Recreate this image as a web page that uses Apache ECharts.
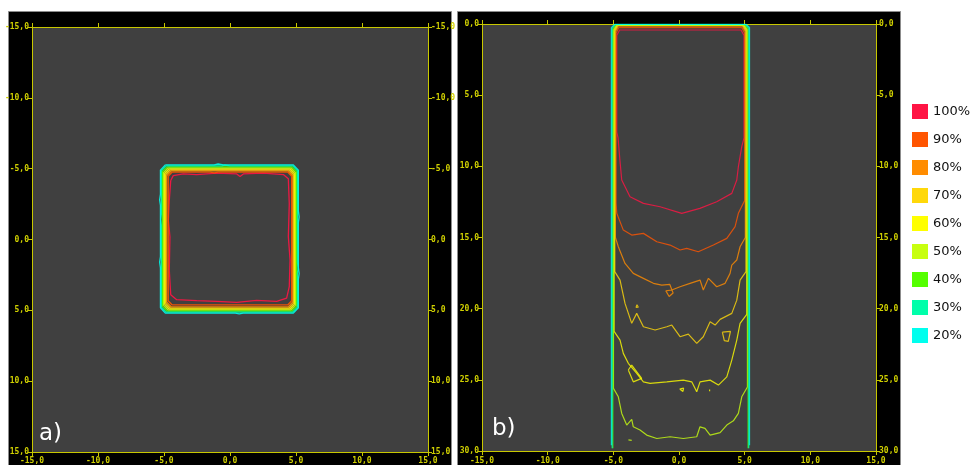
<!DOCTYPE html>
<html><head><meta charset="utf-8">
<script src="https://cdn.jsdelivr.net/npm/echarts@6/dist/echarts.min.js"></script>
<style>html,body{margin:0;padding:0;background:#fff}#c{width:973px;height:465px}</style>
</head><body><div id="c"></div>
<script>
// ---- categories / levels ----
const levels = ['100%','90%','80%','70%','60%','50%','40%','30%','20%'];
const levelColors = ['#ff1444','#ff5500','#ff8c00','#ffd80a','#ffff00','#c8ff10','#55ff00','#00ffaa','#00ffee'];

// ---- tick values ----
const ticksA = [-15,-10,-5,0,5,10,15];
const ticksBx = [-15,-10,-5,0,5,10,15];
const ticksBdepth = [0,5,10,15,20,25,30];

// ---- panel a) isodose contours (x, y) ----
const a100 = [[-4.49,-4.16],[-4.3,-4.51],[-3.54,-4.63],[-2.52,-4.58],[-1.01,-4.68],[0.51,-4.63],[0.76,-4.44],[1.01,-4.63],[2.52,-4.68],[4.04,-4.58],[4.42,-4.28],[4.49,-2.52],[4.42,-0.19],[4.55,1.45],[4.49,3.32],[4.29,4.14],[3.54,4.37],[2.02,4.29],[0.51,4.44],[-1.01,4.37],[-2.52,4.32],[-4.04,4.25],[-4.49,3.9],[-4.6,2.15],[-4.55,-0.19],[-4.67,-1.35],[-4.6,-2.76],[-4.49,-4.16]];
const a90 = [[-4.38,-4.76],[-1.5,-4.76],[-1.2,-4.7],[-0.9,-4.76],[4.37,-4.76],[4.67,-4.46],[4.67,4.32],[4.37,4.62],[-4.38,4.62],[-4.68,4.32],[-4.68,-4.46],[-4.38,-4.76]];
const a80 = [[-4.45,-4.85],[4.41,-4.85],[4.76,-4.5],[4.76,4.41],[4.41,4.76],[-4.45,4.76],[-4.8,4.41],[-4.8,-4.5],[-4.45,-4.85]];
const a70 = [[-4.53,-4.92],[4.48,-4.92],[4.83,-4.57],[4.83,4.49],[4.48,4.84],[-4.53,4.84],[-4.88,4.49],[-4.88,-4.57],[-4.53,-4.92]];
const a60 = [[-4.61,-4.99],[4.55,-4.99],[4.9,-4.64],[4.9,4.56],[4.55,4.91],[-4.61,4.91],[-4.96,4.56],[-4.96,-4.64],[-4.61,-4.99]];
const a50 = [[-4.69,-5.06],[4.62,-5.06],[4.97,-4.71],[4.97,4.63],[4.62,4.98],[-4.69,4.98],[-5.04,4.63],[-5.04,-4.71],[-4.69,-5.06]];
const a40 = [[-4.77,-5.13],[4.69,-5.13],[5.04,-4.78],[5.04,4.7],[4.69,5.05],[-4.77,5.05],[-5.12,4.7],[-5.12,-4.78],[-4.77,-5.13]];
const a30 = [[-4.85,-5.2],[-0.6,-5.2],[-0.4,-5.25],[0.0,-5.2],[4.76,-5.2],[5.11,-4.85],[5.11,1.6],[5.16,2.0],[5.11,2.4],[5.11,4.77],[4.76,5.12],[-4.85,5.12],[-5.2,4.77],[-5.2,-1.0],[-5.25,-1.4],[-5.2,-1.8],[-5.2,-4.85],[-4.85,-5.2]];
const a20 = [[-4.9,-5.27],[-1.2,-5.27],[-0.9,-5.33],[-0.5,-5.27],[4.8,-5.27],[5.18,-4.9],[5.18,-2.0],[5.24,-1.6],[5.18,-1.2],[5.18,2.0],[5.24,2.4],[5.18,2.8],[5.18,4.82],[4.8,5.2],[1.0,5.2],[0.7,5.25],[0.4,5.2],[-4.9,5.2],[-5.27,4.82],[-5.27,2.0],[-5.33,1.6],[-5.27,1.2],[-5.27,-2.4],[-5.33,-2.8],[-5.27,-3.2],[-5.27,-4.9],[-4.9,-5.27]];

// ---- panel b) isodose contours (x, depth) ----
const b100 = [[-4.74,0.8],[-4.74,7.6],[-4.64,8.0],[-4.5,9.56],[-4.36,10.96],[-3.73,12.14],[-2.71,12.6],[-1.44,12.84],[0.21,13.3],[1.59,12.95],[2.87,12.49],[4.02,11.9],[4.4,10.96],[4.52,10.03],[4.78,8.62],[4.95,8.0],[4.95,0.8],[4.72,0.42],[-4.52,0.42],[-4.74,0.8]];
const b90 = [[-4.79,0.65],[-4.79,12.6],[-4.74,13.3],[-4.24,14.48],[-3.6,14.83],[-2.71,14.71],[-1.69,15.3],[-0.68,15.53],[0.08,15.88],[0.59,15.76],[1.47,16.0],[2.62,15.53],[3.64,15.06],[4.27,14.24],[4.52,13.3],[5.0,12.4],[5.0,0.65],[4.78,0.25],[-4.58,0.25],[-4.79,0.65]];
const b80 = [[-4.84,0.55],[-4.84,15.0],[-4.62,15.65],[-4.11,16.82],[-3.48,17.52],[-2.71,17.87],[-1.95,18.22],[-1.31,18.34],[-0.7,18.3],[-0.45,18.9],[-0.75,19.15],[-1.0,18.75],[-0.55,18.69],[0.08,18.46],[0.84,18.22],[1.6,17.99],[1.85,18.69],[2.24,17.87],[2.87,18.46],[3.51,18.22],[3.89,17.52],[4.02,16.94],[4.4,16.58],[4.65,15.65],[5.05,15.0],[5.05,0.55],[4.83,0.15],[-4.62,0.15],[-4.84,0.55]];
const b70 = [[-4.89,0.5],[-4.89,17.4],[-4.49,17.99],[-4.11,19.63],[-3.6,21.03],[-3.22,20.33],[-2.71,21.27],[-1.82,21.5],[-0.93,21.27],[-0.55,21.15],[0.08,21.97],[0.71,21.79],[1.35,22.44],[1.85,21.97],[2.37,20.92],[2.75,21.15],[3.13,20.75],[4.02,20.33],[4.4,19.4],[4.65,17.99],[5.1,17.4],[5.1,0.5],[4.88,0.1],[-4.67,0.1],[-4.89,0.5]];
const b70dot = [[-3.2,19.72],[-3.1,19.9],[-3.27,19.92],[-3.2,19.72]];
const b70loop = [[3.3,21.65],[3.92,21.6],[3.75,22.3],[3.45,22.25],[3.3,21.65]];
const b60 = [[-4.94,0.45],[-4.94,21.6],[-4.49,22.21],[-4.24,23.14],[-3.86,23.84],[-3.22,24.55],[-2.71,25.14],[-2.2,25.25],[-0.93,25.14],[0.33,25.02],[0.97,25.14],[1.35,25.84],[1.6,25.14],[2.37,25.02],[3.0,25.37],[3.64,24.79],[4.02,23.61],[4.4,22.21],[4.65,21.03],[5.16,20.4],[5.16,0.45],[4.93,0.08],[-4.72,0.08],[-4.94,0.45]];
const b60loop = [[-3.86,24.31],[-3.6,23.96],[-2.84,24.9],[-3.48,25.14],[-3.86,24.31]];
const b60dot1 = [[0.05,25.65],[0.35,25.58],[0.3,25.82],[0.05,25.65]];
const b60dot2 = [[2.33,25.68],[2.43,25.74],[2.33,25.8],[2.33,25.68]];
const b50 = [[-4.99,0.4],[-4.99,25.6],[-4.62,26.19],[-4.36,27.36],[-3.98,28.18],[-3.6,27.78],[-3.48,28.3],[-2.97,28.53],[-2.46,28.88],[-1.69,29.12],[-0.68,29.0],[0.33,29.12],[1.35,29.0],[1.6,28.3],[1.98,28.41],[2.37,28.88],[3.13,28.71],[3.64,28.18],[4.14,27.88],[4.52,27.36],[4.78,26.19],[5.21,25.5],[5.21,0.4],[4.98,0.06],[-4.77,0.06],[-4.99,0.4]];
const b50loop = [[-3.85,29.22],[-3.72,29.08],[-3.6,29.25],[-3.72,29.36],[-3.85,29.22]];
const b40 = [[-5.04,29.8],[-5.04,0.35],[-4.8,0.05],[5.0,0.05],[5.26,0.35],[5.26,29.8]];
const b30 = [[-5.09,29.8],[-5.09,0.3],[-4.85,0.03],[5.05,0.03],[5.31,0.3],[5.31,29.8]];
const b20 = [[-5.15,29.6],[-5.15,0.25],[-4.9,0.02],[5.1,0.02],[5.37,0.25],[5.37,29.6]];

const aPaths = {'100%':[a100],'90%':[a90],'80%':[a80],'70%':[a70],'60%':[a60],'50%':[a50],'40%':[a40],'30%':[a30],'20%':[a20]};
const bPaths = {'100%':[b100],'90%':[b90],'80%':[b80],'70%':[b70,b70dot,b70loop],'60%':[b60,b60loop,b60dot1,b60dot2],'50%':[b50,b50loop],'40%':[b40],'30%':[b30],'20%':[b20]};

// ---- styling ----
const AX = '#c8c800';
const fmt = v => v.toFixed(1).replace('.', ',');
const lab = (margin, show) => ({show: show !== false, color: '#d0d000', fontSize: 8, fontWeight: 'bold', fontFamily: 'DejaVu Sans Mono', margin, formatter: fmt});
function axis(gridIndex, position, ticks, opts) {
  return Object.assign({
    type: 'value', gridIndex, position,
    min: ticks[0], max: ticks[ticks.length-1], interval: ticks[1]-ticks[0],
    axisLine: {show: true, onZero: false, lineStyle: {color: AX, width: 1}},
    axisTick: {show: true, inside: false, length: 4, lineStyle: {color: AX}},
    axisLabel: lab(3),
    splitLine: {show: false}
  }, opts || {});
}

const series = [];
levels.forEach((lv, i) => {
  const col = levelColors[i];
  aPaths[lv].forEach(p => series.push({type:'line', name: lv, xAxisIndex:0, yAxisIndex:0, data:p, symbol:'none', showSymbol:false,
    lineStyle:{color:col, width:1.3, opacity:0.9}, itemStyle:{color:col}, animation:false, silent:true, z: 3 + i}));
  bPaths[lv].forEach(p => series.push({type:'line', name: lv, xAxisIndex:2, yAxisIndex:2, data:p, symbol:'none', showSymbol:false,
    lineStyle:{color:col, width:1.2, opacity:0.8}, itemStyle:{color:col}, animation:false, silent:true, z: 3 + i}));
});

const chart = echarts.init(document.getElementById('c'), null, {renderer: 'canvas'});
chart.setOption({
  backgroundColor: '#ffffff',
  animation: false,
  graphic: [
    {type:'rect', z:-10, shape:{x:8.5, y:11.5, width:443, height:470}, style:{fill:'#000', stroke:'#8c8c8c', lineWidth:1}},
    {type:'rect', z:-10, shape:{x:457.5, y:11.5, width:443, height:470}, style:{fill:'#000', stroke:'#8c8c8c', lineWidth:1}},
    {type:'text', z:100, style:{text:'a)', x:39, y:434, fill:'#ffffff', font:'23px "DejaVu Sans"', verticalAlign:'middle'}},
    {type:'text', z:100, style:{text:'b)', x:492, y:429, fill:'#ffffff', font:'23px "DejaVu Sans"', verticalAlign:'middle'}}
  ],
  grid: [
    {left:32, top:27, width:396, height:428, show:true, backgroundColor:'#404040', borderWidth:0},
    {left:482, top:24, width:394, height:427, show:true, backgroundColor:'#404040', borderWidth:0}
  ],
  xAxis: [
    axis(0, 'bottom', ticksA, {axisLabel: lab(5)}),
    axis(0, 'top', ticksA, {axisLabel: lab(3, false)}),
    axis(1, 'bottom', ticksBx, {axisLabel: lab(6)}),
    axis(1, 'top', ticksBx, {axisLabel: lab(3, false)})
  ],
  yAxis: [
    axis(0, 'left', ticksA, {inverse:true}),
    axis(0, 'right', ticksA, {inverse:true}),
    axis(1, 'left', ticksBdepth, {inverse:true}),
    axis(1, 'right', ticksBdepth, {inverse:true})
  ],
  legend: {
    orient:'vertical', left:912, top:104, padding:0, itemWidth:16, itemHeight:15, itemGap:13, icon:'rect',
    selectedMode:false, data: levels,
    textStyle:{color:'#111', fontSize:13, fontFamily:'DejaVu Sans'}
  },
  series
});
</script>
</body></html>
